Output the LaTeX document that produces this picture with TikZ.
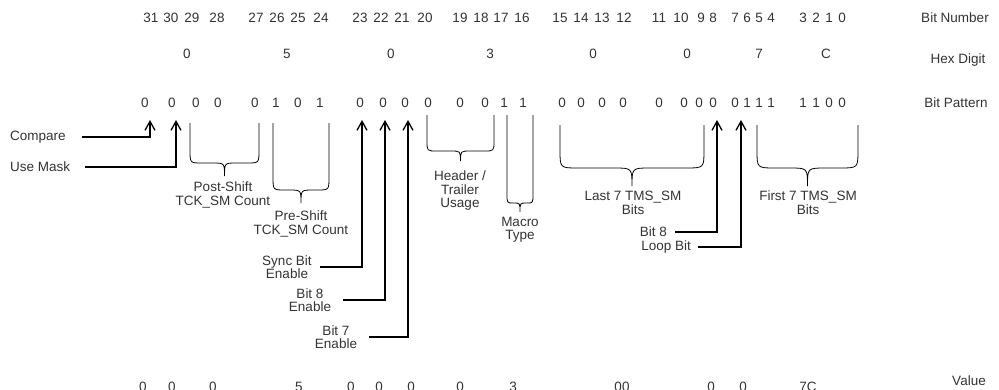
\documentclass[tikz,border=0pt]{standalone}
\usepackage{fontspec}
\setmainfont{Liberation Sans}
\usetikzlibrary{arrows.meta}

\tikzset{
  lbl/.style={font=\fontsize{13.5}{13.5}\selectfont, text=black!80, inner sep=0pt},
  row/.style={lbl, anchor=base},
  bitarrow/.style={-{Straight Barb[length=9pt,width=10pt]}, line width=1.3pt},
  bracestyle/.style={line width=0.8pt},
}
% brace under a bit field: left, right, top, middle, tip, curl, tip name
\newcommand{\fieldbrace}[7]{%
  \draw[bracestyle] (#1,#3) -- (#1,2*#4-#5) .. controls (#1,#4) .. (#1+#6,#4)
    -- ({(#1+#2)/2-#6},#4) .. controls ({(#1+#2)/2},#4) .. ({(#1+#2)/2},#5) coordinate (#7)
    .. controls ({(#1+#2)/2},#4) .. ({(#1+#2)/2+#6},#4) -- (#2-#6,#4)
    .. controls (#2,#4) .. (#2,2*#4-#5) -- (#2,#3);}

\begin{document}
\begin{tikzpicture}[x=1pt,y=-1pt]
\useasboundingbox (0,0) rectangle (999,389);

% bit numbers
\foreach \n/\x in {31/151,30/171,29/192,28/217,27/256,26/277,25/298,24/321,
                   23/360,22/381,21/402,20/425,19/460,18/481,17/501,16/522,
                   15/560,14/581,13/602,12/624,11/659,10/681,9/701,8/713,
                   7/735,6/747,5/759,4/771,3/803,2/816,1/829,0/842}
{
    \node[row] (n\n) at (\x,22) {\n};
}
\node[row] (bitnum) at (955,22) {Bit Number};

% hex digits
\foreach \h/\x/\k in {0/187/7,5/287/6,0/391/5,3/490/4,0/593/3,0/687/2,7/759/1,C/826/0}
{
    \node[row] (hex\k) at (\x,58) {\h};
}
\node[row] (hexdig) at (958,63) {Hex Digit};

% bit pattern
\foreach \n/\x/\v in {31/145/0,30/172/0,29/196/0,28/218/0,27/255/0,26/276/1,25/298/0,24/320/1,
                      23/360/0,22/383/0,21/405/0,20/428/0,19/460/0,18/485/0,17/504/1,16/523/1,
                      15/562/0,14/581/0,13/602/0,12/623/0,11/659/0,10/684/0,9/699/0,8/713/0,
                      7/735/0,6/747/1,5/759/1,4/771/1,3/803/1,2/816/1,1/829/0,0/842/0}
{
    \node[row] (b\n) at (\x,107) {\v};
}
\node[row] (bitpat) at (956,107) {Bit Pattern};

% arrow tips under single bits
\foreach \n/\x in {31/150,30/176,23/362,22/385,21/408,8/717,7/741}
{
    \coordinate (t\n) at (\x,120);
}

% single bit flags
\node[lbl, anchor=west] (compare) at (10,137) {Compare};
\node[lbl, anchor=west] (usemask) at (10,167) {Use Mask};
\node[lbl, align=center] (sync) at (287,267) {Sync Bit\\Enable};
\node[lbl, align=center] (bit8en) at (310,300) {Bit 8\\Enable};
\node[lbl, align=center] (bit7en) at (336,337) {Bit 7\\Enable};
\node[lbl, anchor=east] (bit8) at (667,232) {Bit 8};
\node[lbl, anchor=east] (loop) at (691,247) {Loop Bit};

\draw[bitarrow] ([xshift=16pt]compare.east) -| (t31);
\draw[bitarrow] ([xshift=15pt]usemask.east) -| (t30);
\draw[bitarrow] ([xshift=8pt]sync.east) -| (t23);
\draw[bitarrow] ([xshift=12pt]bit8en.east) -| (t22);
\draw[bitarrow] ([xshift=12pt]bit7en.east) -| (t21);
\draw[bitarrow] ([xshift=8pt]bit8.east) -| (t8);
\draw[bitarrow] ([xshift=7pt]loop.east) -| (t7);

% multi bit fields
\fieldbrace{190}{259}{123}{163}{176}{12}{tpost}
\fieldbrace{273}{329}{123}{190}{203}{12}{tpre}
\fieldbrace{427}{494}{115}{151}{161}{10}{thead}
\fieldbrace{507}{533}{115}{203}{212}{6}{tmacro}
\fieldbrace{560}{704}{125}{168}{186}{18}{tlast}
\fieldbrace{757}{858}{125}{168}{186}{18}{tfirst}

\node[lbl, align=center, anchor=north] (post) at (223,182) {Post-Shift\\TCK\_SM Count};
\node[lbl, align=center, anchor=north] (pre) at (301,211) {Pre-Shift\\TCK\_SM Count};
\node[lbl, align=center, anchor=north] (head) at (460,171) {Header /\\Trailer\\Usage};
\node[lbl, align=center, anchor=north] (macro) at (520,217) {Macro\\Type};
\node[lbl, align=center, anchor=north] (last) at (633,191) {Last 7 TMS\_SM\\Bits};
\node[lbl, align=center, anchor=north] (first) at (808,191) {First 7 TMS\_SM\\Bits};

% field values
\foreach \v/\x [count=\i] in {0/143,0/172,0/213,5/299,0/351,0/379,0/411,0/460,3/513,00/622,0/711,0/743,7C/808}
{
    \node[row] (v\i) at (\x,391) {\v};
}
\node[row] (value) at (969,385) {Value};
\end{tikzpicture}
\end{document}
